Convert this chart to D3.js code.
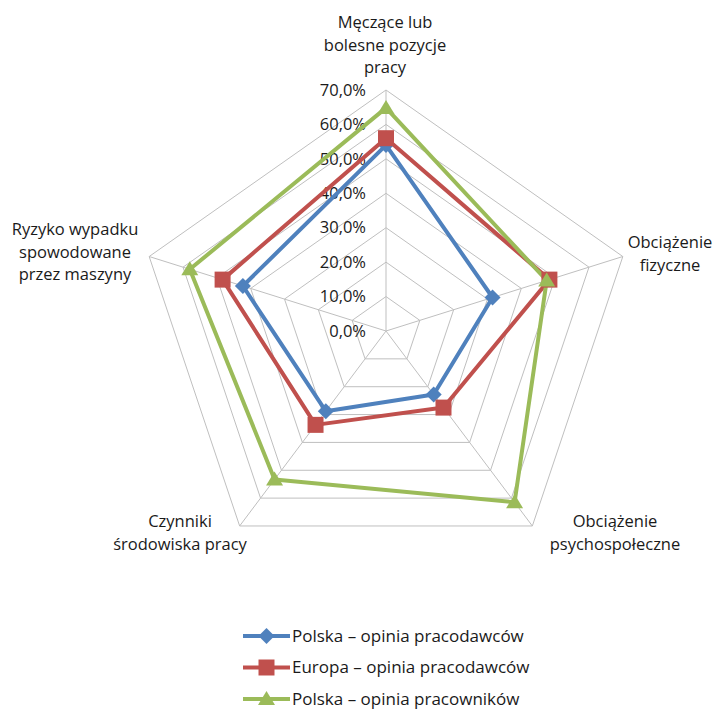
<!DOCTYPE html>
<html><head><meta charset="utf-8">
<script src="https://cdn.jsdelivr.net/npm/d3@7/dist/d3.min.js"></script>
<style>body{margin:0;background:#fff}svg{display:block}text{font-family:"Open Sans","Liberation Sans",sans-serif;fill:#1a1a1a}</style>
</head><body><svg id="c" width="719" height="711"></svg>
<script>
const categories = [
  ["Męczące lub","bolesne pozycje","pracy"],
  ["Obciążenie","fizyczne"],
  ["Obciążenie","psychospołeczne"],
  ["Czynniki","środowiska pracy"],
  ["Ryzyko wypadku","spowodowane","przez maszyny"]
];
const seriesNames = ["Polska – opinia pracodawców","Europa – opinia pracodawców","Polska – opinia pracowników"];
const polskaPracodawcy = [54.0, 31.5, 22.8, 28.8, 42.3];
const europaPracodawcy = [56.0, 48.3, 27.5, 33.7, 48.3];
const polskaPracownicy = [64.8, 47.5, 61.5, 53.3, 58.0];
const tickValues = [0,10,20,30,40,50,60,70];
const tickLabels = ["0,0%","10,0%","20,0%","30,0%","40,0%","50,0%","60,0%","70,0%"];
const colors = ["#4F81BD","#C0504D","#9BBB59"];
const markers = ["diamond","square","triangle"];

const svg = d3.select("#c");
const cx = 386, cy = 331;
const rx = d3.scaleLinear().domain([0,70]).range([0,249]);
const ry = d3.scaleLinear().domain([0,70]).range([0,241]);
const n = categories.length;
const ang = d3.scaleLinear().domain([0,n]).range([-Math.PI/2, 1.5*Math.PI]);
const pt = (i,v)=>[cx + rx(v)*Math.cos(ang(i)), cy + ry(v)*Math.sin(ang(i))];

const g = svg.append("g");
tickValues.forEach(t=>{
  if(t===0) return;
  g.append("polygon")
   .attr("points", d3.range(n).map(i=>pt(i,t).join(",")).join(" "))
   .attr("fill","none").attr("stroke","#BFBFBF").attr("stroke-width",1);
});
d3.range(n).forEach(i=>{
  const p = pt(i,70);
  g.append("line").attr("x1",cx).attr("y1",cy).attr("x2",p[0]).attr("y2",p[1])
   .attr("stroke","#BFBFBF").attr("stroke-width",1);
});
tickValues.forEach((t,k)=>{
  g.append("text").attr("x",cx-20).attr("y",cy-ry(t)).attr("dy","0.35em")
   .attr("text-anchor","end").attr("font-size",16.5).text(tickLabels[k]);
});
const labelPos = [[385,28,"middle"],[670,248,"middle"],[615,527,"middle"],[180,527,"middle"],[75,235,"middle"]];
categories.forEach((lines,i)=>{
  const [x,y,a] = labelPos[i];
  const t = g.append("text").attr("x",x).attr("y",y).attr("text-anchor",a).attr("font-size",16.5);
  lines.forEach((l,j)=>t.append("tspan").attr("x",x).attr("dy", j===0?0:22.5).text(l));
});

function markerPath(type){
  if(type==="diamond") return "M0,-8L8,0L0,8L-8,0Z";
  if(type==="square") return "M-8,-8H8V8H-8Z";
  return "M0,-8L8.5,6L-8.5,6Z";
}
function drawMarker(sel, type, x, y, color){
  sel.append("path").attr("d", markerPath(type))
    .attr("transform",`translate(${x},${y})`).attr("fill",color);
}
const allSeries = [polskaPracodawcy, europaPracodawcy, polskaPracownicy];
const line = d3.line().curve(d3.curveLinearClosed);
allSeries.forEach((vals,s)=>{
  const pts = vals.map((v,i)=>pt(i,v));
  g.append("path").attr("d",line(pts)).attr("fill","none").attr("stroke",colors[s])
   .attr("stroke-width",4).attr("stroke-linejoin","round");
});
allSeries.forEach((vals,s)=>{
  vals.forEach((v,i)=>{ const p=pt(i,v); drawMarker(g, markers[s], p[0], p[1], colors[s]); });
});

const lg = svg.append("g");
seriesNames.forEach((name,s)=>{
  const y = 636 + s*31.5;
  lg.append("line").attr("x1",243).attr("x2",290).attr("y1",y).attr("y2",y)
    .attr("stroke",colors[s]).attr("stroke-width",4);
  drawMarker(lg, markers[s], 266.5, y, colors[s]);
  lg.append("text").attr("x",292).attr("y",y).attr("dy","0.35em").attr("font-size",17).text(name);
});
</script></body></html>
